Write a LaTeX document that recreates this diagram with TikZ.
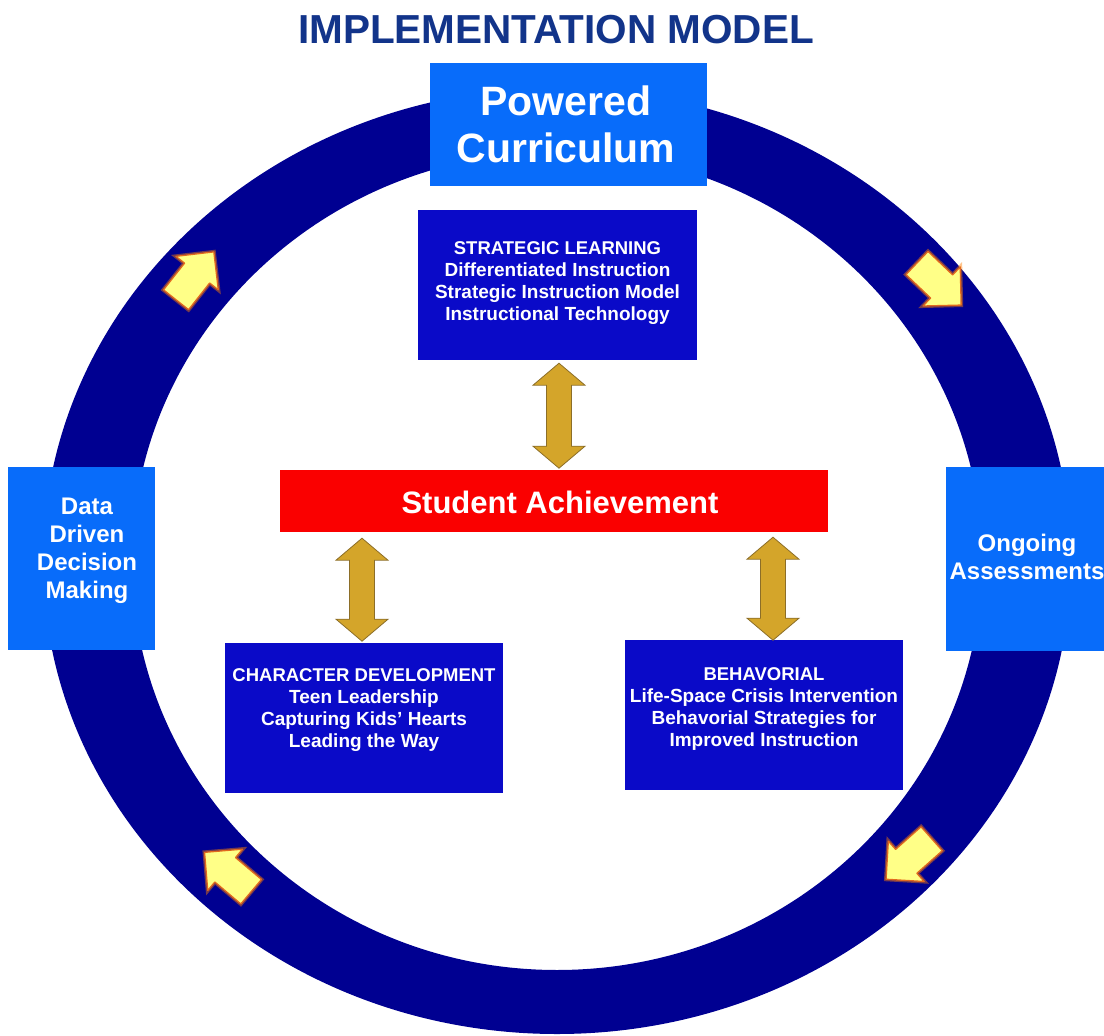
\documentclass[tikz,border=0pt]{standalone}
\usepackage{fontspec}
\setmainfont{Liberation Sans}
\usetikzlibrary{calc}
\definecolor{ringblue}{RGB}{0,0,145}
\definecolor{boxblue}{RGB}{10,10,200}
\definecolor{brightblue}{RGB}{8,108,250}
\definecolor{titleblue}{RGB}{18,52,138}
\definecolor{achred}{RGB}{250,0,0}
\definecolor{goldfill}{RGB}{212,165,42}
\definecolor{goldline}{RGB}{140,110,40}
\definecolor{arrowyellow}{RGB}{255,255,135}
\definecolor{arrowedge}{RGB}{225,105,30}
\begin{document}
\begin{tikzpicture}[x=1pt,y=-1pt,
  dbox/.style={fill=boxblue, draw=none, inner sep=0pt},
  bbox/.style={fill=brightblue, draw=none, inner sep=0pt},
  rbox/.style={fill=achred, draw=none, inner sep=0pt},
  smalltxt/.style={text=white, font=\bfseries\fontsize{19}{22}\selectfont, align=center, inner sep=0pt},
  sidetxt/.style={text=white, font=\bfseries\fontsize{24}{28}\selectfont, align=center, inner sep=0pt},
  goldarrow/.style={fill=goldfill, draw=goldline, line width=0.8pt, line join=miter},
  yarrow/.style={fill=arrowyellow, draw=arrowedge, line width=1.3pt, line join=round,
     preaction={draw=orange, draw opacity=0.45, line width=4pt}},
  pics/vdbl/.style={code={
     \draw[goldarrow] (0,0) -- (26,22) -- (12.5,22) -- (12.5,#1-22) -- (26,#1-22) -- (0,#1)
        -- (-26,#1-22) -- (-12.5,#1-22) -- (-12.5,22) -- (-26,22) -- cycle;}},
  pics/yarr/.style={code={
     \draw[yarrow] (-29,-16) -- (5,-16) -- (5,-27) -- (32,0) -- (5,27) -- (5,16) -- (-29,16) -- cycle;}}
]
\useasboundingbox (0,0) rectangle (1104,1036);
\clip (0,0) rectangle (1104,1036);
\fill[white] (0,0) rectangle (1104,1036);

% ring
\fill[ringblue, even odd rule] (557,561) ellipse [x radius=514pt, y radius=473pt]
                               (557,561) ellipse [x radius=425pt, y radius=409pt];

% title
\node[text=titleblue, font=\bfseries\fontsize{40.5}{44}\selectfont, inner sep=0pt] (title) at (556,30) {IMPLEMENTATION MODEL};

% outer boxes
\node[bbox, minimum width=277pt, minimum height=123pt] (pc) at (568.5,124.5) {};
\node[text=white, font=\bfseries\fontsize{41}{47}\selectfont, align=center, inner sep=0pt] (pct) at (566,124) {Powered\\Curriculum};

\node[bbox, minimum width=147pt, minimum height=183pt] (dd) at (81.5,558.5) {};
\node[sidetxt] (ddt) at (87,551) {Data\\Driven\\Decision\\Making};

\node[bbox, minimum width=162pt, minimum height=184pt] (oa) at (1027,559) {};
\node[sidetxt] (oat) at (1027,557) {Ongoing\\Assessments};

% inner boxes
\node[dbox, minimum width=279pt, minimum height=150pt] (sl) at (557.5,285) {};
\node[smalltxt] (slt) at (557.5,283) {{\fontsize{18.5}{22}\selectfont STRATEGIC LEARNING}\\Differentiated Instruction\\Strategic Instruction Model\\Instructional Technology};

\node[rbox, minimum width=548pt, minimum height=62pt] (sa) at (554,501) {};
\node[text=white, font=\bfseries\fontsize{31}{34}\selectfont, inner sep=0pt] (sat) at (560,502) {Student Achievement};

\node[dbox, minimum width=278pt, minimum height=150pt] (cd) at (364,718) {};
\node[smalltxt] (cdt) at (364,710) {{\fontsize{18.5}{22}\selectfont CHARACTER DEVELOPMENT}\\Teen Leadership\\Capturing Kids' Hearts\\Leading the Way};

\node[dbox, minimum width=278pt, minimum height=150pt] (bh) at (764,715) {};
\node[smalltxt] (bht) at (764,709) {{\fontsize{18.5}{22}\selectfont BEHAVORIAL}\\Life-Space Crisis Intervention\\Behavorial Strategies for\\Improved Instruction};

% gold double arrows
\pic (a1) at ($(sl.south)+(1.5,3)$) {vdbl=105};
\pic (a2) at ($(sa.south -| cd.north)+(-2,6)$) {vdbl=103};
\pic (a3) at ($(sa.south -| bh.north)+(9,5)$) {vdbl=103};

% yellow cycle arrows
\pic[rotate=51.7] (y1) at (194,277) {yarr};
\pic[rotate=-43.6] (y2) at (938,283) {yarr};
\pic[rotate=-138.4] (y3) at (910,858) {yarr};
\pic[rotate=139.8] (y4) at (229,873) {yarr};
\end{tikzpicture}
\end{document}
